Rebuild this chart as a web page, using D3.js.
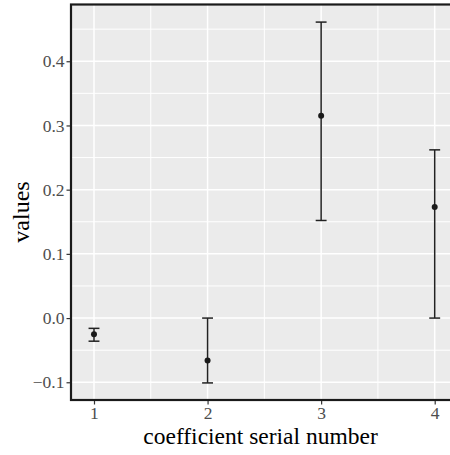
<!DOCTYPE html>
<html>
<head>
<meta charset="utf-8">
<script src="https://cdn.jsdelivr.net/npm/d3@7"></script>
<style>
  html, body { margin: 0; padding: 0; background: #fff; }
  svg text { font-family: "Liberation Serif", "Times New Roman", serif; }
</style>
</head>
<body>
<svg id="chart" width="450" height="455"></svg>
<script>
// --- data ---
const coefs = [1, 2, 3, 4];
const estimates = [-0.025, -0.066, 0.315, 0.173];
const lowers = [-0.036, -0.101, 0.152, 0.0];
const uppers = [-0.016, 0.0, 0.461, 0.262];
const yTicks = [-0.1, 0.0, 0.1, 0.2, 0.3, 0.4];
const yMinor = [-0.05, 0.05, 0.15, 0.25, 0.35, 0.45];
const xMinor = [1.5, 2.5, 3.5];

const serif = '"Liberation Serif", "Times New Roman", serif';
const svg = d3.select("#chart");
const panelLeft = 71, panelTop = 4.5, panelBottom = 400;
const capHalf = 0.048; // half width of the error bar caps, in x units

const x = d3.scaleLinear().domain([0.7975, 4.2025]).range([panelLeft, 457.7]);
const y = d3.scaleLinear().domain([-0.1276, 0.4884]).range([panelBottom, panelTop]);

// panel background
svg.append("rect")
  .attr("x", panelLeft).attr("y", panelTop)
  .attr("width", 460 - panelLeft).attr("height", panelBottom - panelTop)
  .attr("fill", "#ebebeb");

// grid lines
const grid = svg.append("g");
grid.selectAll(".ymin").data(yMinor).join("line")
  .attr("x1", panelLeft).attr("x2", 460)
  .attr("y1", d => y(d)).attr("y2", d => y(d))
  .attr("stroke", "#fff").attr("stroke-width", 1);
grid.selectAll(".xmin").data(xMinor).join("line")
  .attr("y1", panelTop).attr("y2", panelBottom)
  .attr("x1", d => x(d)).attr("x2", d => x(d))
  .attr("stroke", "#fff").attr("stroke-width", 1);
grid.selectAll(".ymaj").data(yTicks).join("line")
  .attr("x1", panelLeft).attr("x2", 460)
  .attr("y1", d => y(d)).attr("y2", d => y(d))
  .attr("stroke", "#fff").attr("stroke-width", 1.5);
grid.selectAll(".xmaj").data(coefs).join("line")
  .attr("y1", panelTop).attr("y2", panelBottom)
  .attr("x1", d => x(d)).attr("x2", d => x(d))
  .attr("stroke", "#fff").attr("stroke-width", 1.5);

// error bars
const rows = coefs.map((c, i) => ({ c, est: estimates[i], lo: lowers[i], hi: uppers[i] }));
const bars = svg.append("g").attr("stroke", "#222").attr("stroke-width", 1.5);
bars.selectAll(".v").data(rows).join("line")
  .attr("x1", d => x(d.c)).attr("x2", d => x(d.c))
  .attr("y1", d => y(d.lo)).attr("y2", d => y(d.hi));
bars.selectAll(".lo").data(rows).join("line")
  .attr("x1", d => x(d.c - capHalf)).attr("x2", d => x(d.c + capHalf))
  .attr("y1", d => y(d.lo)).attr("y2", d => y(d.lo));
bars.selectAll(".hi").data(rows).join("line")
  .attr("x1", d => x(d.c - capHalf)).attr("x2", d => x(d.c + capHalf))
  .attr("y1", d => y(d.hi)).attr("y2", d => y(d.hi));

svg.append("g").selectAll("circle").data(rows).join("circle")
  .attr("cx", d => x(d.c)).attr("cy", d => y(d.est))
  .attr("r", 3).attr("fill", "#1a1a1a");

// panel border (right edge falls outside the picture)
svg.append("rect")
  .attr("x", panelLeft).attr("y", panelTop)
  .attr("width", 462 - panelLeft).attr("height", panelBottom - panelTop)
  .attr("fill", "none").attr("stroke", "#1a1a1a").attr("stroke-width", 2.2);

// axes
const yAxis = svg.append("g")
  .attr("transform", `translate(${panelLeft - 1},0)`)
  .call(d3.axisLeft(y).tickValues(yTicks).tickFormat(d3.format(".1f")).tickSize(3.5).tickPadding(2));
const xAxis = svg.append("g")
  .attr("transform", `translate(0,${panelBottom + 1})`)
  .call(d3.axisBottom(x).tickValues(coefs).tickFormat(d3.format("d")).tickSize(3.5).tickPadding(2.5));

[yAxis, xAxis].forEach(ax => {
  ax.attr("font-family", serif).attr("font-size", 17.5);
  ax.select(".domain").remove();
  ax.selectAll(".tick line").attr("stroke", "#333").attr("stroke-width", 1.2);
  ax.selectAll(".tick text").attr("fill", "#4d4d4d");
});

// axis titles
svg.append("text")
  .attr("x", 260.5).attr("y", 444.2)
  .attr("text-anchor", "middle")
  .attr("font-family", serif).attr("font-size", 23.5).attr("fill", "#000")
  .text("coefficient serial number");
svg.append("text")
  .attr("transform", "translate(28.5,212) rotate(-90)")
  .attr("text-anchor", "middle")
  .attr("font-family", serif).attr("font-size", 24).attr("fill", "#000")
  .text("values");
</script>
</body>
</html>
